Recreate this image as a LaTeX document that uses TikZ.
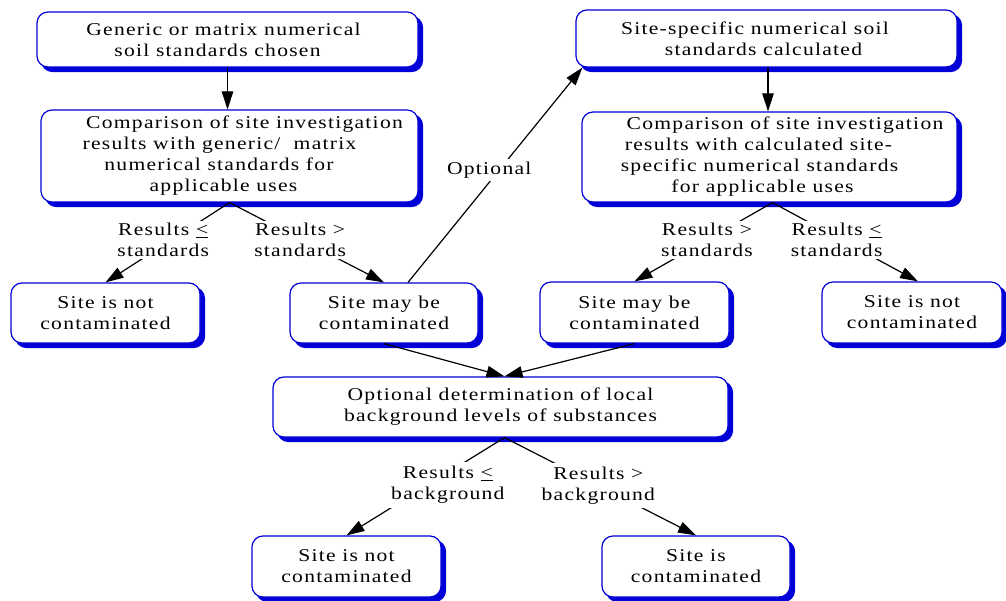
\documentclass[tikz,border=0pt]{standalone}
\usepackage{fontspec}
\setmainfont{Liberation Serif}[FakeStretch=1.2, LetterSpace=7]
\usetikzlibrary{arrows.meta,shadows}
\definecolor{bblue}{RGB}{0,0,215}
\newcommand\gapw[1]{\rule{#1}{0pt}}
\begin{document}
\begin{tikzpicture}[x=1pt,y=-1pt,
  box/.style={draw=bblue, line width=1.2pt, rounded corners=11pt, fill=white, align=center,
    inner sep=0pt, font=\fontsize{18}{21}\selectfont,
    general shadow={fill=bblue, draw=bblue, shadow xshift=4.5pt, shadow yshift=-4.5pt}},
  lbl/.style={fill=white, align=center, inner sep=2pt, font=\fontsize{18}{21}\selectfont},
  conn/.style={line width=1.2pt, -{Triangle[length=18pt,width=11.5pt]}}]
\useasboundingbox (0,0) rectangle (1006,601);

\node[box, minimum width=381pt, minimum height=55pt] (b1) at (227.5,39.5)
  {Generic or matrix numerical\gapw{8pt}\\soil standards chosen\gapw{20pt}};
\node[box, minimum width=377pt, minimum height=92pt] (b2) at (229.5,156)
  {\gapw{30pt}Comparison of site investigation\\results with generic/~ matrix\gapw{20pt}\\numerical standards for\gapw{21pt}\\applicable uses\gapw{12pt}};
\node[box, minimum width=381pt, minimum height=57pt] (b3) at (766.5,38.5)
  {Site-specific numerical soil\gapw{23pt}\\standards calculated\gapw{6pt}};
\node[box, minimum width=375pt, minimum height=90pt] (b4) at (769.5,157)
  {\gapw{31pt}Comparison of site investigation\\results with calculated site-\gapw{22pt}\\specific numerical standards\gapw{20pt}\\for applicable uses\gapw{14pt}};

\node[box, minimum width=189pt, minimum height=60pt] (n1) at (105.5,313) {Site is not\\contaminated};
\node[box, minimum width=188pt, minimum height=60pt] (m1) at (384,313) {Site may be\\contaminated};
\node[box, minimum width=189pt, minimum height=61pt] (m2) at (634.5,312.5) {Site may be\\contaminated};
\node[box, minimum width=180pt, minimum height=61pt] (n2) at (912,312.5) {Site is not\\contaminated};

\node[box, minimum width=455pt, minimum height=60pt] (od) at (500.5,407)
  {Optional determination of local\\background levels of substances};

\node[box, minimum width=189pt, minimum height=61pt] (n3) at (346.5,566.5) {Site is not\\contaminated};
\node[box, minimum width=188pt, minimum height=61pt] (c) at (696,566.5) {Site is\\contaminated};

% connectors
\draw[conn] (b1.south) -- (b1.south |- b2.north);
\draw[conn] ([xshift=1.5pt]b3.south) -- ([xshift=1.5pt]b3.south |- b4.north);

\draw[conn] (b2.south) -- node[lbl, pos=0.47, xshift=-8pt] (l1) {Results \underline{<}\\standards} (n1.north);
\draw[conn] (b2.south) -- node[lbl, pos=0.47, xshift=-2pt] (l2) {Results >\\standards} (m1.north);

\draw[conn] ([xshift=3pt]b4.south) -- node[lbl, pos=0.475] (l3) {Results >\\standards} (m2.north);
\draw[conn] ([xshift=3pt]b4.south) -- node[lbl, pos=0.475, xshift=-5pt] (l4) {Results \underline{<}\\standards} ([xshift=6pt]n2.north);

\draw[conn] ([xshift=24pt]m1.north) -- node[lbl, pos=0.523, xshift=-10pt, inner sep=3pt] (l5) {Optional} ([xshift=7pt]b3.south west);

\draw[conn] (m1.south) -- ([xshift=4pt]od.north);
\draw[conn] (m2.south) -- ([xshift=4pt]od.north);

\draw[conn] ([xshift=4pt]od.south) -- node[lbl, pos=0.485, xshift=20pt, inner sep=4pt] (l6) {Results \underline{<}\\background} (n3.north);
\draw[conn] ([xshift=4pt]od.south) -- node[lbl, pos=0.49, inner sep=4pt] (l7) {Results >\\background} (c.north);
\end{tikzpicture}
\end{document}
